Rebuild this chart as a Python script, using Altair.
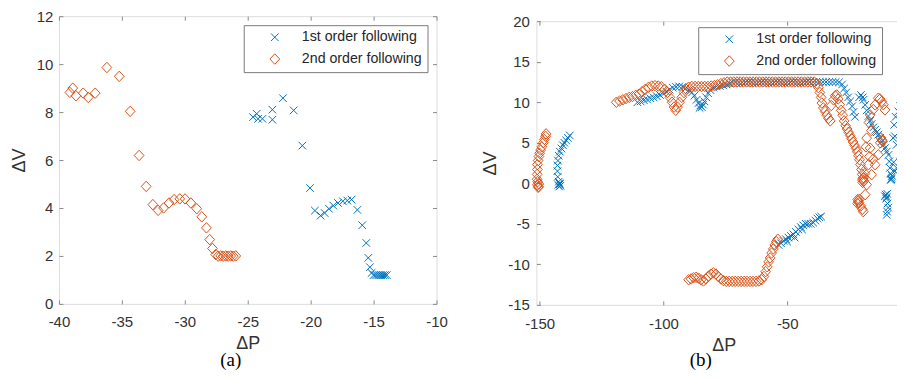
import altair as alt
import pandas as pd

S1 = "1st order following"
S2 = "2nd order following"
BLUE = "#0072BD"
ORANGE = "#D95319"
CROSS = "M-0.72,-0.72L0.72,0.72M0.72,-0.72L-0.72,0.72"
DIAMOND = "M0,-1L0.93,0L0,1L-0.93,0Z"

# ---------------- panel (a) ----------------
a_first_x = [-24.58, -24.29, -24.18, -23.83, -23.04, -23.04, -22.2, -21.35, -20.66, -20.05,
             -19.66, -19.21, -18.89, -18.55, -18.2, -17.83, -17.44, -17.09, -16.75, -16.29,
             -15.9, -15.58, -15.42, -15.29, -15.16, -15.0, -14.85, -14.7, -14.55, -14.4,
             -14.25, -14.1, -13.95]
a_first_y = [7.79, 7.93, 7.72, 7.72, 8.1, 7.68, 8.58, 8.07, 6.6, 4.83,
             3.89, 3.68, 3.79, 3.97, 4.1, 4.21, 4.28, 4.31, 4.35, 3.92,
             3.28, 2.54, 1.92, 1.53, 1.29, 1.2, 1.2, 1.2, 1.2, 1.2,
             1.2, 1.2, 1.2]
a_second_x = [-39.13, -38.9, -38.65, -38.07, -37.67, -37.12, -36.19, -35.21, -34.34, -33.63,
              -33.07, -32.54, -32.12, -31.69, -31.25, -30.85, -30.4, -29.98, -29.52, -29.05,
              -28.65, -28.28, -28.02, -27.8, -27.54, -27.35, -27.15, -26.95, -26.75, -26.55,
              -26.35, -26.15, -25.95]
a_second_y = [8.82, 9.0, 8.68, 8.79, 8.61, 8.79, 9.86, 9.49, 8.03, 6.19,
              4.9, 4.14, 3.9, 4.0, 4.21, 4.35, 4.38, 4.38, 4.21, 3.97,
              3.63, 3.17, 2.68, 2.31, 2.06, 1.99, 2.0, 1.99, 2.0, 1.99,
              2.0, 1.99, 2.0]
a_xticks = [-40, -35, -30, -25, -20, -15, -10]
a_yticks = [0, 2, 4, 6, 8, 10, 12]

# ---------------- panel (b) ----------------
b_first_x = [
    # left cluster
    -142.5, -142.0, -141.6, -142.3, -141.8, -142.1, -142.7, -142.8, -142.8, -142.6,
    -142.3, -141.8, -141.2, -140.6, -140.0, -139.3, -138.6, -137.8,
    # upper band
    -110.5, -109.2, -107.9, -106.6, -105.3, -104.0, -102.7, -101.4, -100.1, -98.8,
    -97.5, -96.2, -94.9, -93.6, -92.3, -91.0, -89.7, -88.5, -87.5, -86.6,
    -85.8, -85.1, -84.5, -84.0, -85.4, -83.4, -82.7, -81.9, -81.0, -79.8,
    -78.5, -77.2, -75.9, -74.6, -73.3, -72.0,
    -70.7, -69.4, -68.1, -66.8, -65.5, -64.2, -62.9, -61.6, -60.3, -59.0,
    -57.7, -56.4, -55.1, -53.8, -52.5, -51.2, -49.9, -48.6, -47.3, -46.0,
    -44.7, -43.4, -42.1, -40.8, -39.5, -38.2, -36.9, -35.6, -34.3, -33.0,
    -31.7, -30.4, -29.1,
    # right-hand descent
    -27.8, -27.0, -26.2, -25.4, -24.6, -23.8, -23.2, -22.6, -21.0, -20.2,
    -19.5, -19.2, -18.5, -17.9, -17.2, -16.5, -15.9, -15.2, -14.5, -13.8,
    -13.2, -12.5, -11.8, -11.1, -10.5, -9.8, -9.1, -8.8, -8.5, -8.2,
    -7.8, -8.2, -7.6, -8.0, -10.2, -9.8, -10.5, -9.6, -10.0, -9.5,
    -9.2, -9.6, -9.8, -5.8, -6.5, -6.8, -6.2, -5.1, -4.4, -3.8,
    -4.4, -3.5, -2.6, -5.8, -6.5, -7.2, -7.0,
    # lower branch
    -53.5, -52.5, -51.5, -50.5, -50.0, -49.5, -48.5, -47.5, -47.0, -46.5,
    -45.5, -44.5, -44.0, -43.5, -42.5, -41.5, -40.5, -39.5, -38.6, -37.8,
    -37.0, -36.3]
b_first_y = [
    -0.2, 0.0, -0.3, 0.2, -0.1, -0.4, 0.8, 1.5, 2.2, 2.8,
    3.4, 3.9, 4.3, 4.7, 5.0, 5.3, 5.6, 5.9,
    10.0, 10.1, 10.25, 10.35, 10.5, 10.6, 10.75, 10.9, 11.1, 11.3,
    11.55, 11.8, 11.9, 11.95, 11.9, 11.7, 11.5, 11.2, 10.8, 10.3,
    9.9, 9.6, 9.4, 9.7, 9.3, 10.1, 10.6, 11.1, 11.5, 11.8,
    11.95, 12.0, 12.1, 12.2, 12.3, 12.4,
    12.45, 12.45, 12.45, 12.45, 12.45, 12.45, 12.45, 12.45, 12.45, 12.45,
    12.45, 12.45, 12.45, 12.45, 12.45, 12.45, 12.45, 12.45, 12.45, 12.45,
    12.45, 12.45, 12.45, 12.5, 12.5, 12.5, 12.5, 12.5, 12.5, 12.5,
    12.5, 12.5, 12.45,
    12.2, 11.7, 11.2, 10.6, 10.1, 9.5, 8.8, 8.2, 10.6, 10.9,
    10.6, 10.3, 9.67, 9.0, 8.3, 7.7, 7.3, 6.9, 6.6, 6.3,
    6.0, 5.6, 5.16, 4.75, 4.34, 3.9, 3.5, 2.7, 1.9, 1.2,
    0.65, 0.4, 0.9, 0.5, -1.4, -1.7, -1.6, -1.3, -1.9, -2.5,
    -3.0, -3.5, -3.9, 4.75, 5.8, 7.2, 8.2, 8.86, 9.5, 10.1,
    2.7, 3.6, 4.2, 1.9, 1.5, 5.6, 2.6,
    -7.6, -7.4, -7.1, -6.9, -7.2, -6.7, -6.5, -6.3, -6.7, -6.0,
    -5.7, -5.4, -5.7, -5.2, -5.0, -5.0, -5.0, -4.85, -4.6, -4.35,
    -4.2, -4.1]
b_second_x = [
    # left cluster
    -150.9, -150.6, -150.3, -150.8, -150.4, -151.0, -151.0, -150.9, -150.9, -150.6,
    -150.3, -150.0, -149.6, -149.1, -148.5, -148.1, -147.6, -147.4,
    # upper band
    -119.0, -117.7, -116.4, -115.1, -113.8, -112.5, -111.2, -109.9, -108.6, -107.3,
    -106.0, -104.7, -103.4, -102.1, -100.8, -99.5, -98.4, -97.4, -96.5, -95.7,
    -95.0, -94.3, -93.5, -92.6, -91.7, -90.8, -89.8, -88.5, -87.2, -85.9,
    -84.6, -83.3, -82.0, -80.7, -79.4, -78.1, -76.8, -75.5, -74.2,
    -72.9, -71.6, -70.3, -69.0, -67.7, -66.4, -65.1, -63.8, -62.5, -61.2,
    -59.9, -58.6, -57.3, -56.0, -54.7, -53.4, -52.1, -50.8, -49.5, -48.2,
    -46.9, -45.6, -44.3, -43.0, -41.7, -40.4, -39.1,
    # right-hand tangle
    -38.0, -37.4, -36.8, -36.3, -36.0, -35.4, -34.7, -34.0, -33.3, -32.6,
    -32.2, -31.3, -30.6, -30.0, -29.4, -28.8, -28.2, -27.6, -27.0, -26.4,
    -25.8, -25.2, -24.6, -24.0, -23.4, -22.8, -22.2, -21.7, -21.2, -20.8,
    -20.4, -20.0, -19.7, -19.4, -19.1, -19.6, -19.2, -19.5,
    -21.5, -21.0, -21.3, -20.9, -21.6, -20.3, -19.6, -19.3,
    -17.9, -16.5, -17.2, -17.9, -18.5, -16.5, -15.2, -14.5, -13.2, -12.5,
    -11.8, -11.2, -10.5, -11.8, -12.1, -11.5, -12.4, -13.2, -14.5, -15.9,
    -16.8, -15.2, -18.6, -18.2, -16.0, -17.0,
    # lower branch
    -89.8, -88.8, -87.8, -86.8, -85.8, -84.8, -83.8, -82.8, -81.8, -80.8,
    -79.8, -78.8, -77.8, -76.8, -75.8, -74.6, -73.4, -72.2, -71.0, -69.8,
    -68.6, -67.4, -66.2, -65.0, -63.8, -62.6, -61.4, -60.3, -59.4, -58.7,
    -58.1, -57.5, -56.9, -56.3, -55.6, -55.0, -54.4, -53.8]
b_second_y = [
    -0.2, -0.5, -0.1, 0.2, -0.4, 0.5, 1.1, 1.7, 2.3, 2.8,
    3.3, 3.7, 4.1, 4.5, 5.0, 5.4, 5.8, 6.1,
    10.0, 10.15, 10.3, 10.45, 10.6, 10.7, 10.85, 11.0, 11.3, 11.6,
    11.85, 12.0, 12.05, 12.0, 11.9, 11.6, 11.2, 10.6, 10.0, 9.4,
    9.0, 9.4, 10.0, 10.6, 11.2, 11.6, 11.85, 11.95, 11.95, 11.95,
    11.95, 11.95, 11.95, 12.0, 12.05, 12.15, 12.3, 12.4, 12.5,
    12.5, 12.5, 12.5, 12.5, 12.5, 12.5, 12.5, 12.5, 12.5, 12.5,
    12.5, 12.5, 12.5, 12.5, 12.5, 12.5, 12.5, 12.5, 12.5, 12.5,
    12.5, 12.5, 12.5, 12.5, 12.5, 12.5, 12.5,
    12.3, 11.8, 11.2, 10.6, 9.9, 9.3, 8.86, 8.4, 8.0, 7.7,
    9.6, 10.3, 10.8, 10.9, 10.4, 9.7, 9.0, 8.4, 7.7, 7.1,
    6.7, 6.3, 5.9, 5.5, 5.1, 4.7, 4.3, 3.9, 3.4, 2.9,
    2.3, 1.7, 1.1, 0.6, 0.3, 0.4, 0.7, 0.1,
    -2.0, -2.4, -2.2, -2.0, -2.5, -2.8, -3.2, -3.5,
    5.57, 4.34, 2.29, -0.17, -1.4, 8.44, 9.1, 9.67, 10.5, 10.4,
    10.1, 9.7, 9.05, 5.36, 5.6, 5.2, 5.0, 3.52, 2.29, 1.06,
    3.3, 3.0, 1.2, 4.5, 6.5, 7.5,
    -11.9, -11.8, -11.65, -11.6, -11.7, -11.9, -12.05, -11.8, -11.45, -11.2,
    -11.05, -11.2, -11.5, -11.8, -12.0, -12.1, -12.1, -12.1, -12.1, -12.1,
    -12.1, -12.1, -12.1, -12.1, -12.1, -12.1, -12.05, -11.9, -11.5, -10.9,
    -10.3, -9.7, -9.2, -8.6, -8.1, -7.6, -7.2, -6.9]
b_xticks = [-150, -100, -50]
b_yticks = [-15, -10, -5, 0, 5, 10, 15, 20]

LABEL_FONT = "Liberation Sans"
TXT = "#333333"
LINE = "#8a8a8a"
HYPHEN_LABEL = "datum.value < 0 ? '-' + abs(datum.value) : '' + datum.value"


def frame_df(xs1, ys1, xs2, ys2):
    return pd.DataFrame({
        "x": list(xs1) + list(xs2),
        "y": list(ys1) + list(ys2),
        "s": [S1] * len(xs1) + [S2] * len(xs2),
    })


def axis(orient, values, title=None, labels=True, lp=6, tp=8):
    return alt.Axis(orient=orient, values=values, labels=labels, offset=-4, tickSize=4,
                    tickColor=LINE, tickWidth=1, domain=False, grid=False,
                    labelFont=LABEL_FONT, labelFontSize=15, labelColor=TXT,
                    labelPadding=lp, labelFlush=False, labelOverlap=False,
                    labelExpr=HYPHEN_LABEL,
                    titleFont=LABEL_FONT, titleFontSize=18, titleFontWeight="normal",
                    titleColor=TXT, titlePadding=tp, title=title)


def legend(lx, ly):
    return alt.Legend(title=None, orient="none", legendX=lx, legendY=ly,
                      direction="vertical", fillColor="white", strokeColor="#7a7a7a",
                      padding=5, symbolOffset=19, labelOffset=20, rowPadding=5.8,
                      labelFont=LABEL_FONT, labelFontSize=14.2, labelColor="#262626",
                      symbolSize=110, symbolStrokeWidth=1)


def panel(df, xdom, ydom, xt, yt, w, h, lx, ly, cap, cap_dx, cap_off, xlp, xtp, ylp):
    xs = alt.Scale(domain=xdom, nice=False, zero=False)
    ys = alt.Scale(domain=ydom, nice=False, zero=False)
    lg = legend(lx, ly)
    pts = alt.Chart(df).mark_point(filled=False, strokeWidth=1, size=110, opacity=1).encode(
        x=alt.X("x:Q", scale=xs, axis=axis("bottom", xt, title="ΔP", lp=xlp, tp=xtp)),
        y=alt.Y("y:Q", scale=ys, axis=axis("left", yt, title="ΔV", lp=ylp, tp=8)),
        color=alt.Color("s:N", scale=alt.Scale(domain=[S1, S2], range=[BLUE, ORANGE]), legend=lg),
        shape=alt.Shape("s:N", scale=alt.Scale(domain=[S1, S2], range=[CROSS, DIAMOND]), legend=lg),
    )
    ticks = alt.Chart(df).mark_point(opacity=0, size=1).encode(
        x=alt.X("x:Q", scale=xs, axis=axis("top", xt, labels=False)),
        y=alt.Y("y:Q", scale=ys, axis=axis("right", yt, labels=False)),
    )
    return alt.layer(pts, ticks).resolve_axis(x="independent", y="independent").properties(
        width=w, height=h,
        title=alt.TitleParams(text=cap, orient="bottom", font="Liberation Serif", fontSize=19,
                              fontWeight="normal", color="#000000", offset=cap_off, dx=cap_dx,
                              anchor="middle"),
    )


left = panel(frame_df(a_first_x, a_first_y, a_second_x, a_second_y),
             [-40, -10], [0, 12], a_xticks, a_yticks, 378, 288, 185, 9,
             "(a)", -17, -1.5, 11, 5, 6)
right = panel(frame_df(b_first_x, b_first_y, b_second_x, b_second_y),
              [-151.3, 0], [-15, 20], b_xticks, b_yticks, 375, 284, 162, 6,
              "(b)", -23, -3.5, 12, 5, 7)

# invisible 1px strip that lowers panel (b) so that its frame starts 5px below panel (a)'s
spacer = alt.Chart(pd.DataFrame({"v": [0]})).mark_rule(strokeOpacity=0).encode(
    x=alt.value(0), x2=alt.value(1), y=alt.value(0)
).properties(width=1, height=1, view=alt.ViewBackground(stroke="transparent"))

right_col = alt.vconcat(spacer, right, spacing=4, bounds="flush").resolve_scale(
    color="independent", shape="independent", x="independent", y="independent"
).resolve_legend(color="independent", shape="independent")

chart = alt.hconcat(left, right_col, spacing=100, bounds="flush").resolve_scale(
    color="independent", shape="independent", x="independent", y="independent"
).resolve_legend(color="independent", shape="independent").properties(
    padding={"left": 1, "top": 0, "right": -15, "bottom": 0}
).configure_view(stroke=LINE, strokeWidth=1).configure(background="white")

chart.save("out.html", embed_options={"renderer": "svg", "actions": False})
